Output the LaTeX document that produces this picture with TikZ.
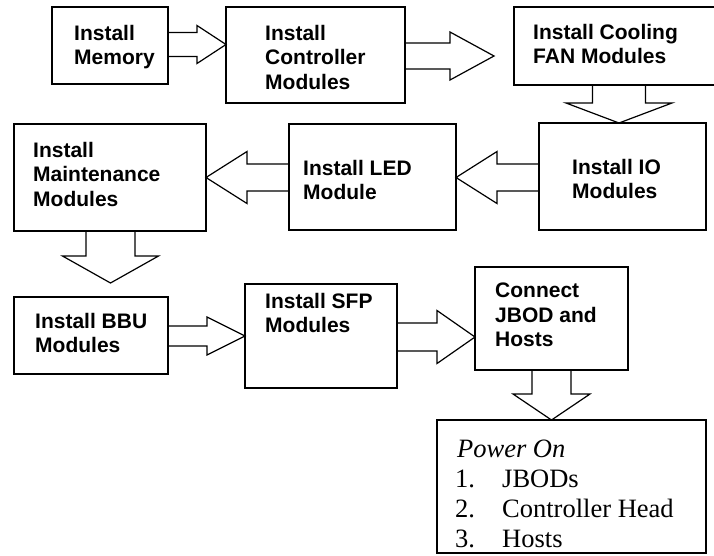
\documentclass[tikz,border=0pt]{standalone}
\usepackage{fontspec}
\setmainfont{Liberation Serif}
\newfontfamily\arialf{Liberation Sans}
\usetikzlibrary{calc}
\tikzset{
  box/.style={draw, line width=1.2pt, inner sep=0pt, outer sep=0pt},
  blk/.style={draw, line width=1.2pt, line join=miter},
  lbl/.style={anchor=north west, inner sep=0pt, align=left,
    font={\arialf\bfseries\fontsize{21}{24.5}\selectfont}},
  plbl/.style={anchor=north west, inner sep=0pt, align=left,
    font={\fontsize{26.5}{30}\selectfont}}
}
\newcommand\boxat[5]{\node[box, minimum width={(#4-#2)*1pt}, minimum height={(#5-#3)*1pt}] (#1) at ({(#2+#4)/2},{(#3+#5)/2}) {};}
% right block arrow: src, tgt, gap, headlen, cy, shaft half, head half
\newcommand\rarrow[7]{\draw[blk] let \p1=(#1.east), \p2=(#2.west) in
  (\x1,{-(#5-#6)*1pt}) -- ({\x2-#3pt-#4pt},{-(#5-#6)*1pt}) -- ({\x2-#3pt-#4pt},{-(#5-#7)*1pt})
  -- ({\x2-#3pt},{-#5pt}) -- ({\x2-#3pt-#4pt},{-(#5+#7)*1pt}) -- ({\x2-#3pt-#4pt},{-(#5+#6)*1pt}) -- (\x1,{-(#5+#6)*1pt});}
\newcommand\larrow[7]{\draw[blk] let \p1=(#1.west), \p2=(#2.east) in
  (\x1,{-(#5-#6)*1pt}) -- ({\x2+#3pt+#4pt},{-(#5-#6)*1pt}) -- ({\x2+#3pt+#4pt},{-(#5-#7)*1pt})
  -- ({\x2+#3pt},{-#5pt}) -- ({\x2+#3pt+#4pt},{-(#5+#7)*1pt}) -- ({\x2+#3pt+#4pt},{-(#5+#6)*1pt}) -- (\x1,{-(#5+#6)*1pt});}
% down block arrow: src, tgt, gap, headlen, cx, shaft half, head half
\newcommand\darrow[7]{\draw[blk] let \p1=(#1.south), \p2=(#2.north) in
  ({(#5-#6)*1pt},\y1) -- ({(#5-#6)*1pt},{\y2+#3pt+#4pt}) -- ({(#5-#7)*1pt},{\y2+#3pt+#4pt})
  -- ({#5pt},{\y2+#3pt}) -- ({(#5+#7)*1pt},{\y2+#3pt+#4pt}) -- ({(#5+#6)*1pt},{\y2+#3pt+#4pt}) -- ({(#5+#6)*1pt},\y1);}
\begin{document}
\begin{tikzpicture}[x=1pt,y=-1pt]
\useasboundingbox (0,0) rectangle (714,555);
\clip (0,0) rectangle (714,555);
% boxes
\boxat{mem}{52}{7}{168}{84}
\boxat{ctrl}{226}{7}{405}{103}
\boxat{cool}{514}{7}{724}{85}
\boxat{io}{539}{123}{706}{230}
\boxat{led}{289}{124}{456}{230}
\boxat{maint}{14}{124}{206}{231}
\boxat{bbu}{14}{297}{168}{374}
\boxat{sfp}{245}{284}{397}{388}
\boxat{conn}{475}{267}{628}{370}
\boxat{power}{437}{420}{706}{553}
% labels
\node[lbl] (memT) at (74,25) {Install\\Memory};
\node[lbl] (ctrlT) at (265,25) {Install\\Controller\\Modules};
\node[lbl] (coolT) at (533,24) {Install Cooling\\FAN Modules};
\node[lbl] (ioT) at (572,159) {Install IO\\Modules};
\node[lbl] (ledT) at (303,160) {Install LED\\Module};
\node[lbl] (maintT) at (33,142) {Install\\Maintenance\\Modules};
\node[lbl] (bbuT) at (35,313) {Install BBU\\Modules};
\node[lbl] (sfpT) at (265,293) {Install SFP\\Modules};
\node[lbl] (connT) at (495,283) {Connect\\JBOD and\\Hosts};
\node[plbl] (powerT) at (455,440) {\hspace{2pt}\textit{Power On}\\
  \makebox[47pt][l]{1.}JBODs\\
  \makebox[47pt][l]{2.}Controller Head\\
  \makebox[47pt][l]{3.}Hosts};
% block arrows
\rarrow{mem}{ctrl}{0}{29}{44.5}{12}{19}
\rarrow{ctrl}{cool}{20}{44}{56}{13}{24}
\darrow{cool}{io}{0}{20}{619}{26.5}{53}
\larrow{io}{led}{0}{41}{177.5}{13.5}{26}
\larrow{led}{maint}{0}{41}{177.5}{13.5}{26}
\darrow{maint}{bbu}{14}{27}{110.5}{24.5}{48}
\rarrow{bbu}{sfp}{0}{38}{336}{10}{19}
\rarrow{sfp}{conn}{0}{38}{337}{14}{26.5}
\darrow{conn}{power}{0}{26}{551.5}{19.5}{38.5}
\end{tikzpicture}
\end{document}
